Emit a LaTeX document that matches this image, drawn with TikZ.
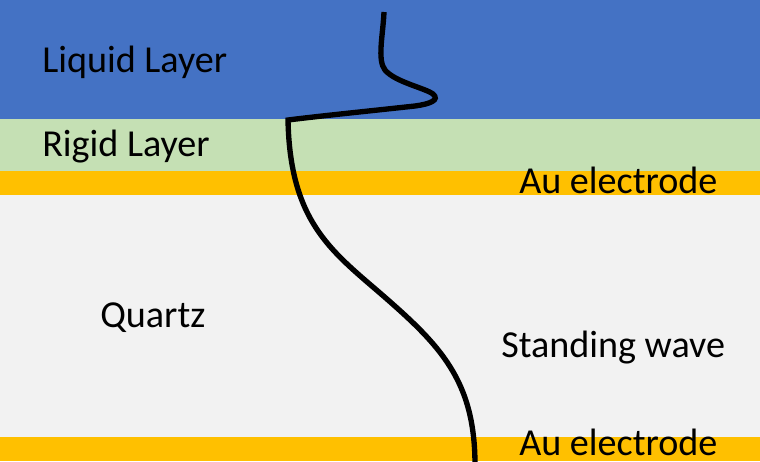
\documentclass[tikz,border=0pt]{standalone}
\usepackage{fontspec}
\setmainfont{Carlito}
\definecolor{liquidblue}{HTML}{4472C4}
\definecolor{rigidgreen}{HTML}{C5E0B4}
\definecolor{augold}{HTML}{FFC000}
\definecolor{quartzgray}{HTML}{F2F2F2}
\begin{document}
\begin{tikzpicture}[x=0.75pt, y=-0.75pt,
  layer label/.style={anchor=base west, inner sep=0pt, font=\fontsize{28.6}{34}\selectfont}]
\useasboundingbox (0,0) rectangle (760,461);
\clip (0,0) rectangle (760,461);
% layers
\fill[liquidblue] (0,0) rectangle (760,119);
\fill[rigidgreen] (0,119) rectangle (760,171);
\fill[augold] (0,171) rectangle (760,195);
\fill[quartzgray] (0,195) rectangle (760,437);
\fill[augold] (0,437) rectangle (760,461);

% labels
\node[layer label] (liquid) at (42,72) {Liquid Layer};
\node[layer label] (rigid) at (42,156) {Rigid Layer};
\node[layer label] (topau) at (519,193) {Au electrode};
\node[layer label] (quartz) at (100,327) {Quartz};
\node[layer label] (wave) at (501,357) {Standing wave};
\node[layer label] (botau) at (519,455) {Au electrode};

% the wave
\draw[line width=4pt]
  (384,12) .. controls (383,35) and (377,60) .. (385,70)
  .. controls (395,82) and (425,88) .. (433,94)
  .. controls (440,100) and (430,104) .. (415,106)
  .. controls (360,112) and (320,116) .. (288,120)
  .. controls (290,220) and (330,250) .. (380,293)
  .. controls (440,345) and (475,380) .. (475,465);
\end{tikzpicture}
\end{document}
